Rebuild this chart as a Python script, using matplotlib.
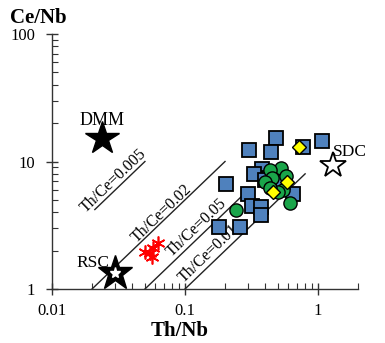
import matplotlib
matplotlib.use("Agg")
import matplotlib.pyplot as plt
import numpy as np

plt.rcParams['font.family'] = ['Liberation Serif', 'DejaVu Serif']

# Blue squares
sq_x = [0.483, 1.066, 0.301, 0.443, 0.771, 0.377, 0.332, 0.202, 0.428, 0.299,
        0.645, 0.317, 0.371, 0.373, 0.181, 0.259, 0.40, 0.546]
sq_y = [15.3, 14.6, 12.3, 11.8, 13.1, 8.69, 7.94, 6.62, 7.42, 5.56,
        5.56, 4.48, 4.37, 3.80, 3.05, 3.08, 7.16, 6.9]
# Green circles
ci_x = [0.527, 0.436, 0.449, 0.40, 0.575, 0.546, 0.50, 0.616, 0.241, 0.436]
ci_y = [8.85, 8.58, 7.38, 6.95, 7.70, 5.98, 5.80, 4.73, 4.17, 6.2]
# Yellow diamonds
di_x = [0.72, 0.582, 0.461]
di_y = [13.0, 6.95, 5.80]
# Red asterisks
rd_x = [0.0546, 0.063, 0.050, 0.0562, 0.0575]
rd_y = [1.905, 2.28, 1.96, 1.79, 2.10]

# Reference components
comp_names = ["DMM", "RSC", "SDC"]
comp_x = [0.0236, 0.0298, 1.30]
comp_y = [15.2, 1.33, 9.39]

# Th/Ce reference lines: ratio, x start, x end, label
ratios = [0.005, 0.02, 0.05, 0.1]
ratio_x0 = [0.021, 0.02, 0.05, 0.1]
ratio_x1 = [0.05, 0.2, 0.283, 0.8]
ratio_labels = ["Th/Ce=0.005", "Th/Ce=0.02", "Th/Ce=0.05", "Th/Ce=0.01"]
label_x = [0.0288, 0.0671, 0.123, 0.151]
label_y = [7.03, 3.88, 3.01, 1.88]

x_ticks = [0.01, 0.1, 1]
x_ticklabels = ["0.01", "0.1", "1"]
y_ticks = [1, 10, 100]
y_ticklabels = ["1", "10", "100"]

fig = plt.figure(figsize=(3.85, 3.43), dpi=100)
ax = fig.add_axes([0.135, 0.1574, 0.795, 0.7435])
ax.set_xscale('log')
ax.set_yscale('log')
ax.set_xlim(0.01, 2)
ax.set_ylim(1, 100)

for r, x0, x1 in zip(ratios, ratio_x0, ratio_x1):
    xs = np.array([x0, x1])
    ax.plot(xs, xs / r, color='#222222', lw=1.0, zorder=2)

ang = np.degrees(np.arctan(127.5 / 133.0))
for t, lx, ly in zip(ratio_labels, label_x, label_y):
    ax.text(lx, ly, t, rotation=ang, rotation_mode='anchor', ha='center',
            va='center', fontsize=11.5, color='black', zorder=3)

ax.plot(sq_x, sq_y, ls='none', marker='s', ms=9.5, mfc='#4F81BD',
        mec='black', mew=1.3, zorder=4)
ax.plot(ci_x, ci_y, ls='none', marker='o', ms=9.5, mfc='#1AA54A',
        mec='black', mew=1.0, zorder=5)
ax.plot(di_x, di_y, ls='none', marker='D', ms=7, mfc='#FFFF00',
        mec='black', mew=1.0, zorder=6)
ax.plot(rd_x, rd_y, ls='none', marker=(6, 2, 0), ms=10, mec='red',
        mew=1.2, zorder=6)

# stars
ax.plot(comp_x[0], comp_y[0], marker='*', ms=25, color='black', zorder=7)
ax.plot(comp_x[1], comp_y[1], marker='*', ms=26, color='black', zorder=7)
ax.plot(comp_x[1], comp_y[1], marker='*', ms=8, color='white', zorder=8)
ax.plot(comp_x[2], comp_y[2], marker='*', ms=19, mfc='white', mec='black',
        mew=1.3, zorder=7)

ax.text(comp_x[0], 20.8, comp_names[0], ha='center', va='center', fontsize=13)
ax.text(0.0205, 1.59, comp_names[1], ha='center', va='center', fontsize=12.5)
ax.text(1.73, 11.8, comp_names[2], ha='center', va='center', fontsize=12.5)

for s in ['top', 'right']:
    ax.spines[s].set_visible(False)
for s in ['left', 'bottom']:
    ax.spines[s].set_color('#333333')
    ax.spines[s].set_linewidth(1.0)

ax.set_xticks(x_ticks)
ax.set_xticklabels(x_ticklabels)
ax.set_yticks(y_ticks)
ax.set_yticklabels(y_ticklabels)
ax.tick_params(which='major', direction='inout', length=8, width=1.0,
               labelsize=12, color='#333333')
ax.tick_params(axis='x', which='major', pad=6)
ax.tick_params(axis='y', which='major', pad=8)
ax.tick_params(which='minor', direction='in', length=4, width=0.8,
               color='#333333')

fig.text(0.025, 1 - 18 / 343, "Ce/Nb", fontsize=15, fontweight='bold',
         ha='left', va='center')
fig.text(180 / 385, 1 - 331 / 343, "Th/Nb", fontsize=15, fontweight='bold',
         ha='center', va='center')

fig.savefig("out.png", dpi=100)
